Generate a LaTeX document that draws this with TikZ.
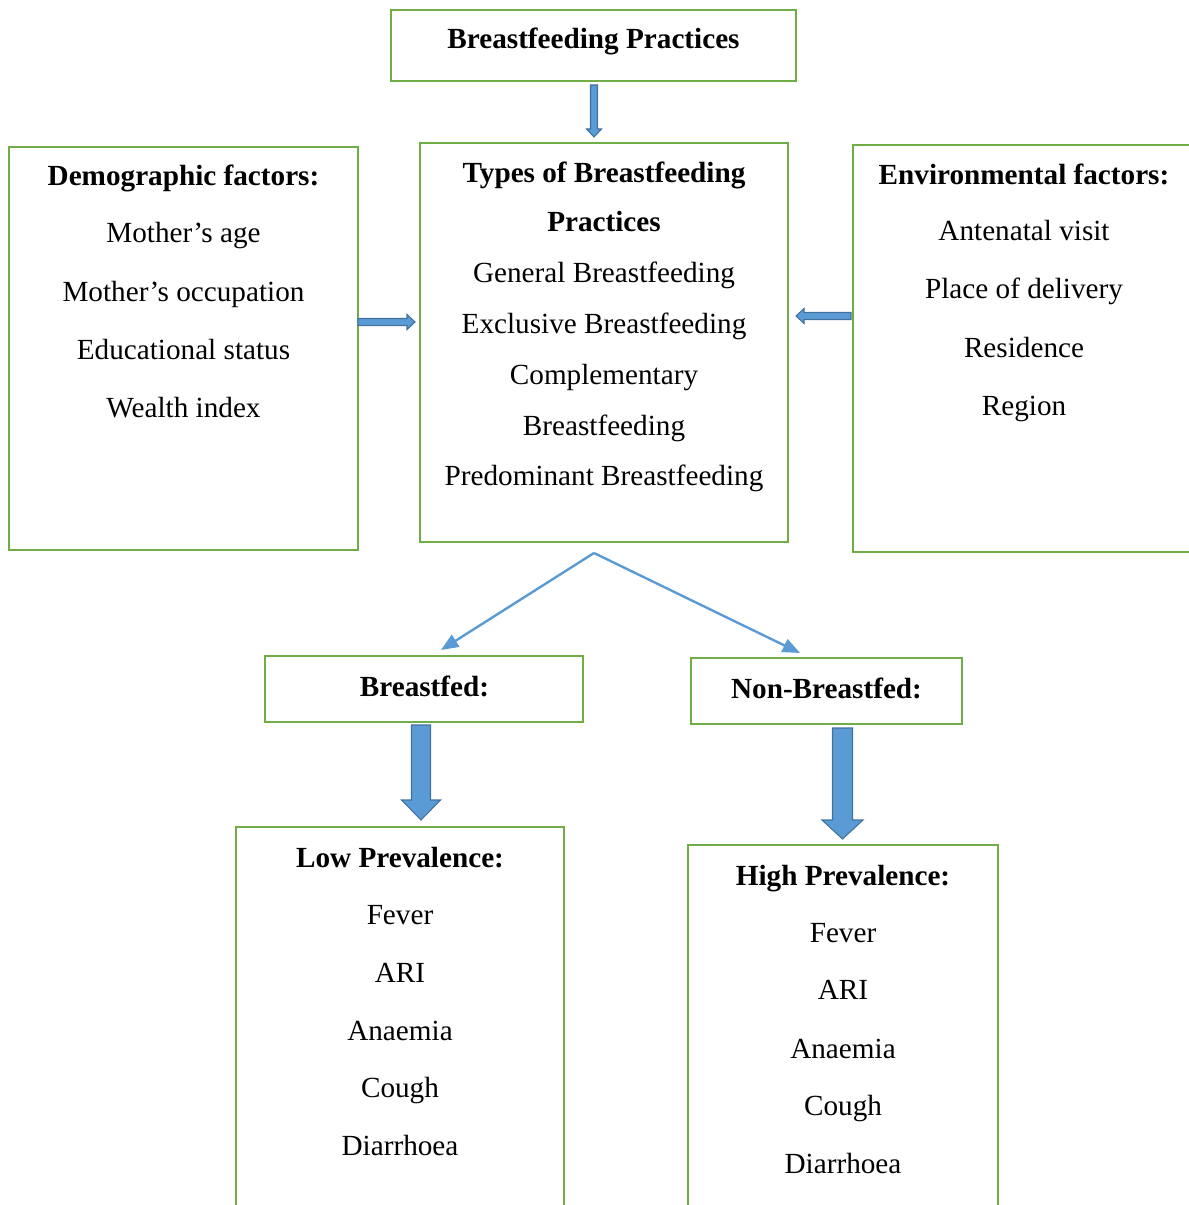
\documentclass[tikz,border=0pt]{standalone}
\usepackage{fontspec}
\setmainfont{Liberation Serif}
\usetikzlibrary{fit,arrows.meta}
\definecolor{boxgreen}{RGB}{112,173,71}
\definecolor{arrowfill}{RGB}{91,155,213}
\definecolor{arrowedge}{RGB}{65,113,156}
\tikzset{
  box/.style={draw=boxgreen, line width=1.5pt, inner sep=0pt, fill=none},
  txt/.style={anchor=base, inner sep=0pt, font=\fontsize{21.9pt}{26pt}\selectfont},
  btxt/.style={txt, font=\fontsize{21.9pt}{26pt}\selectfont\bfseries},
  thinline/.style={draw=arrowfill, line width=1.8pt, -{Triangle[length=13pt,width=10.5pt]}},
  blockarrow/.style={fill=arrowfill, draw=arrowedge, line width=0.8pt, line join=miter}
}
% vertical block arrow down: x, ytop, ytip, shaft half width, head half width, head length
\newcommand\myvarrow[6]{%
  \path[blockarrow] (#1-#4,#2) -- (#1+#4,#2) -- (#1+#4,#3-#6) -- (#1+#5,#3-#6) -- (#1,#3)
    -- (#1-#5,#3-#6) -- (#1-#4,#3-#6) -- cycle;}
% horizontal block arrow: xstart, xtip, y, shaft half, head half, head length (signed)
\newcommand\myharrow[6]{%
  \path[blockarrow] (#1,#3-#4) -- (#2-#6,#3-#4) -- (#2-#6,#3-#5) -- (#2,#3) -- (#2-#6,#3+#5)
    -- (#2-#6,#3+#4) -- (#1,#3+#4) -- cycle;}
\begin{document}
\begin{tikzpicture}[x=0.75pt,y=-0.75pt]
\useasboundingbox (0,0) rectangle (1188,1205);
% boxes
\node[box, fit={(391,10)(796,81)}] (top) {};
\node[box, fit={(420,143)(788,542)}] (types) {};
\node[box, fit={(9,147)(358,550)}] (demo) {};
\node[box, fit={(853,145)(1196,552)}] (env) {};
\node[box, fit={(265,656)(583,722)}] (bf) {};
\node[box, fit={(691,658)(962,724)}] (nbf) {};
\node[box, fit={(236,827)(564,1214)}] (low) {};
\node[box, fit={(688,845)(998,1214)}] (high) {};
% texts
\node[btxt] (t0) at (593.5,49) {Breastfeeding Practices};
\node[btxt] (t1) at (604,183) {Types of Breastfeeding};
\node[btxt] (t2) at (604,232) {Practices};
\node[txt] (t3) at (604,283) {General Breastfeeding};
\node[txt] (t4) at (604,334) {Exclusive Breastfeeding};
\node[txt] (t5) at (604,384) {Complementary};
\node[txt] (t6) at (604,435) {Breastfeeding};
\node[txt] (t7) at (604,485) {Predominant Breastfeeding};
\node[btxt] (d0) at (183.5,186) {Demographic factors:};
\node[txt] (d1) at (183.5,243) {Mother’s age};
\node[txt] (d2) at (183.5,301) {Mother’s occupation};
\node[txt] (d3) at (183.5,359) {Educational status};
\node[txt] (d4) at (183.5,417) {Wealth index};
\node[btxt] (e0) at (1024,185) {Environmental factors:};
\node[txt] (e1) at (1024,241) {Antenatal visit};
\node[txt] (e2) at (1024,299) {Place of delivery};
\node[txt] (e3) at (1024,357) {Residence};
\node[txt] (e4) at (1024,415) {Region};
\node[btxt] (b0) at (424.5,696) {Breastfed:};
\node[btxt] (n0) at (826.5,698) {Non-Breastfed:};
\node[btxt] (l0) at (400,867) {Low Prevalence:};
\node[txt] (l1) at (400,924) {Fever};
\node[txt] (l2) at (400,982) {ARI};
\node[txt] (l3) at (400,1040) {Anaemia};
\node[txt] (l4) at (400,1097) {Cough};
\node[txt] (l5) at (400,1155) {Diarrhoea};
\node[btxt] (h0) at (843,885) {High Prevalence:};
\node[txt] (h1) at (843,942) {Fever};
\node[txt] (h2) at (843,999) {ARI};
\node[txt] (h3) at (843,1058) {Anaemia};
\node[txt] (h4) at (843,1115) {Cough};
\node[txt] (h5) at (843,1173) {Diarrhoea};
% block arrows
\myvarrow{594}{85}{137}{3.5}{7.5}{8}
\myharrow{358}{415}{322}{3.5}{7.5}{8}
\myharrow{851}{796}{316}{3.5}{7.5}{-8}
\myvarrow{421}{725}{820}{9.5}{19.5}{20}
\myvarrow{842.5}{728}{839}{10}{20.5}{19}
% split connectors
\coordinate (split) at (594,553);
\coordinate (bfin) at (441,650);
\coordinate (nbfin) at (800,653);
\draw[thinline] (split) -- (bfin);
\draw[thinline] (split) -- (nbfin);
\end{tikzpicture}
\end{document}
